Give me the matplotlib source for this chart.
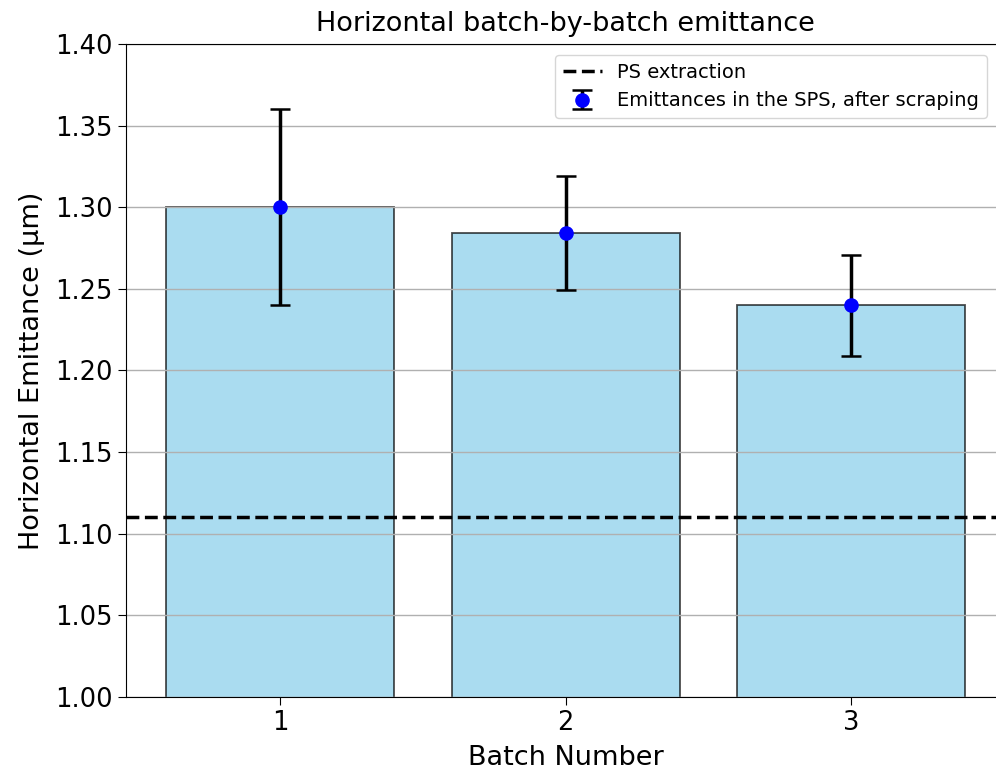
import matplotlib.pyplot as plt

# data
batches = [1, 2, 3]
emittance = [1.300, 1.284, 1.240]
errors = [0.060, 0.035, 0.031]
ps_extraction = 1.11

fig = plt.figure(figsize=(9.96, 7.71), dpi=100)
ax = fig.add_axes([0.1265, 0.096, 0.883, 0.847])

ax.bar(batches, emittance, width=0.8, color="skyblue", alpha=0.7,
       edgecolor="black", linewidth=1.3)
ax.axhline(ps_extraction, color="black", linestyle="--", linewidth=2.5,
           label="PS extraction")
ax.errorbar(batches, emittance, yerr=errors, fmt="o", color="blue",
            ecolor="black", elinewidth=2.5, capsize=7, capthick=1.8,
            markersize=9.5, label="Emittances in the SPS, after scraping")

ax.set_ylim(1.0, 1.4)
ax.set_xticks(batches)
ax.spines["right"].set_visible(False)
ax.tick_params(labelsize=18.5, length=6)
ax.set_xlabel("Batch Number", fontsize=19.5, labelpad=6)
ax.set_ylabel("Horizontal Emittance (µm)", fontsize=19.5, labelpad=7)
ax.set_title("Horizontal batch-by-batch emittance", fontsize=19.5, pad=9.5)
ax.yaxis.grid(True, color="#b0b0b0", linewidth=1)
ax.legend(loc="upper right", fontsize=14, bbox_to_anchor=(0.99, 0.998))

fig.savefig("out.png", dpi=100)
